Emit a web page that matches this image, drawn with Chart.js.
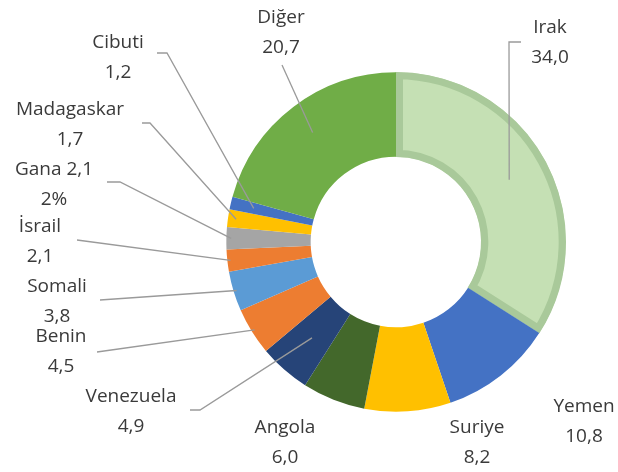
<!DOCTYPE html>
<html>
<head>
<meta charset="utf-8">
<script src="https://cdn.jsdelivr.net/npm/chart.js@4"></script>
<style>
    html, body { margin: 0; padding: 0; background: #fff; }
    #kutu { width: 618px; height: 472px; }
</style>
</head>
<body>
<div id="kutu"><canvas id="grafik"></canvas></div>
<script>
// Veriler (yüzde)
const ulkeler = ['Irak', 'Yemen', 'Suriye', 'Angola', 'Venezuela', 'Benin', 'Somali', 'İsrail', 'Gana', 'Madagaskar', 'Cibuti', 'Diğer'];
const degerler = [34.0, 10.8, 8.2, 6.0, 4.9, 4.5, 3.8, 2.1, 2.1, 1.7, 1.2, 20.7];
const renkler = ['#c5e0b4', '#4472c4', '#ffc000', '#43682b', '#264478', '#ed7d31', '#5b9bd5', '#ed7d31', '#a5a5a5', '#ffc000', '#4472c4', '#70ad47'];

// Etiket metinleri (Gana etiketi orijinalde böyle)
const etiketler = ulkeler.map((u, i) => [u, degerler[i].toFixed(1).replace('.', ',')]);
etiketler[8] = ['Gana 2,1', '2%'];

// Etiket yerleşimi: metin merkezi, çizgi başlangıcı, dirsek, yay üzerindeki bitiş (yarıçap oranı)
const yerlesim = [
    { x: 550, y: 28, cizgi: [[521, 42], [509, 42]], r: 0.76 },
    { x: 584, y: 407 },
    { x: 477, y: 428 },
    { x: 285, y: 428 },
    { x: 131, y: 397, cizgi: [[190, 410], [200, 410]], r: 0.75 },
    { x: 61, y: 337, cizgi: [[97, 352]], r: 0.98 },
    { x: 57, y: 287, cizgi: [[100, 300]], r: 0.98 },
    { x: 40, y: 227, cizgi: [[77, 240]], r: 0.98 },
    { x: 54, y: 170, cizgi: [[107, 182], [120, 182]], r: 0.97 },
    { x: 70, y: 110, cizgi: [[142, 123], [150, 123]], r: 0.95 },
    { x: 118, y: 43, cizgi: [[157, 53], [167, 53]], r: 0.86 },
    { x: 281, y: 18, cizgi: [[282, 65]], r: 0.81 }
];

const etiketEklentisi = {
    id: 'etiketler',
    afterDatasetsDraw(chart) {
        const ctx = chart.ctx;
        const meta = chart.getDatasetMeta(0);
        ctx.save();
        // Kılavuz çizgiler
        ctx.strokeStyle = '#9a9a9a';
        ctx.lineWidth = 1.3;
        meta.data.forEach((arc, i) => {
            const y = yerlesim[i];
            if (!y.cizgi) return;
            const p = arc.getProps(['x', 'y', 'startAngle', 'endAngle', 'outerRadius'], true);
            const aci = (p.startAngle + p.endAngle) / 2;
            const bx = p.x + Math.cos(aci) * p.outerRadius * y.r;
            const by = p.y + Math.sin(aci) * p.outerRadius * y.r;
            ctx.beginPath();
            ctx.moveTo(y.cizgi[0][0], y.cizgi[0][1]);
            y.cizgi.slice(1).forEach(n => ctx.lineTo(n[0], n[1]));
            ctx.lineTo(bx, by);
            ctx.stroke();
        });
        // Metinler
        ctx.fillStyle = '#3a3a3a';
        ctx.font = '19px "Open Sans", sans-serif';
        ctx.textAlign = 'center';
        ctx.textBaseline = 'middle';
        etiketler.forEach((satirlar, i) => {
            const y = yerlesim[i];
            satirlar.forEach((s, k) => ctx.fillText(s, y.x, y.y + k * 30));
        });
        ctx.restore();
    }
};

new Chart(document.getElementById('grafik').getContext('2d'), {
    type: 'doughnut',
    data: {
        labels: ulkeler,
        datasets: [{
            data: degerler,
            backgroundColor: renkler,
            borderColor: ['#a9c99a', '#fff', '#fff', '#fff', '#fff', '#fff', '#fff', '#fff', '#fff', '#fff', '#fff', '#fff'],
            borderWidth: [7, 0, 0, 0, 0, 0, 0, 0, 0, 0, 0, 0],
            borderAlign: 'inner'
        }]
    },
    options: {
        responsive: true,
        maintainAspectRatio: false,
        animation: false,
        cutout: '50%',
        layout: {
            padding: { left: 226, right: 52, top: 72, bottom: 60 }
        },
        plugins: {
            legend: { display: false },
            tooltip: { enabled: false }
        }
    },
    plugins: [etiketEklentisi]
});
</script>
</body>
</html>
